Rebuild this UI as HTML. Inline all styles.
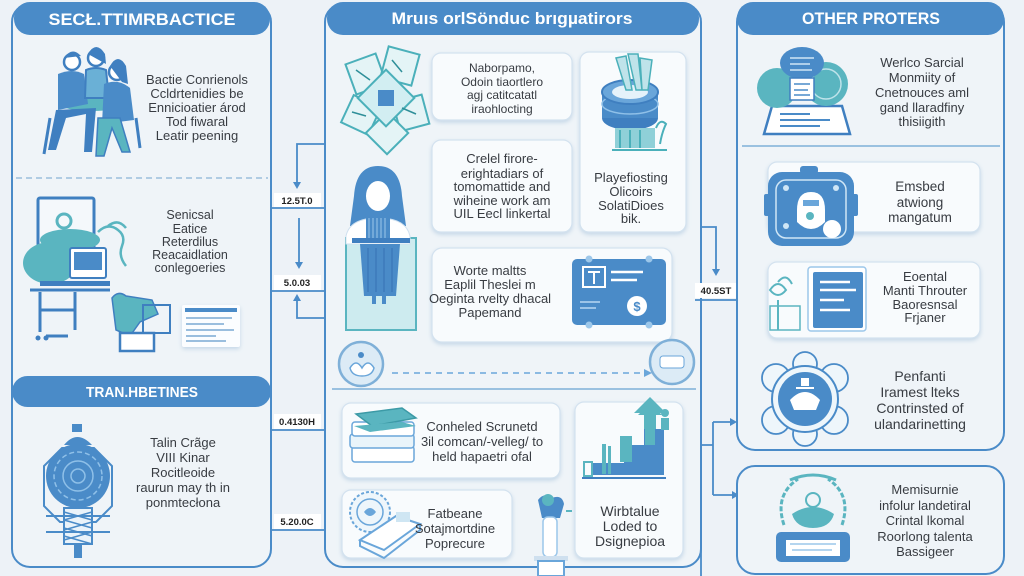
<!DOCTYPE html>
<html><head><meta charset="utf-8"><style>
html,body{margin:0;padding:0;background:#edf2f7;}
svg{display:block;}
text{font-family:"Liberation Sans",sans-serif;}
.h{fill:#fff;font-weight:bold;font-size:17px;}
.t{fill:#383c42;font-size:13px;text-anchor:middle;}
.lab{fill:#222;font-size:9.5px;font-weight:bold;text-anchor:middle;}
</style></head><body>
<svg width="1024" height="576" viewBox="0 0 1024 576" xmlns="http://www.w3.org/2000/svg">
<defs>
<filter id="sh" x="-10%" y="-10%" width="120%" height="130%"><feDropShadow dx="0" dy="2" stdDeviation="2" flood-color="#8fb3d3" flood-opacity="0.45"/></filter>
</defs>
<rect width="1024" height="576" fill="#edf2f7"/>

<!-- ========== LEFT PANEL ========== -->
<rect x="12" y="4" width="259" height="563" rx="18" fill="#eff4f8" stroke="#4a8bc8" stroke-width="2"/>
<rect x="14" y="2" width="256" height="33" rx="16" fill="#4a8bc8"/>
<text class="h" x="142" y="25" text-anchor="middle" textLength="187" lengthAdjust="spacingAndGlyphs">SECŁ.TTIMRBACTICE</text>

<!-- people icon -->
<g>
<ellipse cx="92" cy="104" rx="32" ry="7" fill="#5ab5c0"/>
<circle cx="72" cy="62" r="8" fill="#fff" stroke="#3f7fc0" stroke-width="2.5"/>
<path d="M64 58 q8 -12 17 -2 z" fill="#3f7fc0"/>
<path d="M58 74 q14 -6 26 0 l4 30 l-30 6 z" fill="#4a8bc8"/>
<path d="M56 110 l-8 40 l8 0 l10 -32 l20 -4 l-2 38 l8 0 l4 -44 z" fill="#3f7fc0"/>
<circle cx="96" cy="58" r="8" fill="#fff" stroke="#3f7fc0" stroke-width="2.5"/>
<path d="M88 54 q8 -14 17 0 l1 10 z" fill="#3f7fc0"/>
<path d="M86 70 q10 -4 20 0 l3 28 l-24 0 z" fill="#6ab0d6" stroke="#3f7fc0" stroke-width="2"/>
<circle cx="117" cy="72" r="8" fill="#fff" stroke="#3f7fc0" stroke-width="2.5"/>
<path d="M110 66 q8 -14 16 0 l2 18 l-6 -2 z" fill="#3f7fc0"/>
<path d="M104 84 q14 -6 26 4 l4 32 l-32 4 z" fill="#4a8bc8"/>
<path d="M98 118 l22 0 l10 34 l-8 0 l-10 -24 l-8 28 l-8 0 z" fill="#5ab5c0" stroke="#3f7fc0" stroke-width="1.5"/>
<path d="M50 118 l-6 36 M136 118 l4 30" stroke="#3f7fc0" stroke-width="3"/>
</g>
<text class="t"><tspan x="197" y="84">Bactie Conrienols</tspan><tspan x="197" y="98">Ccldrtenidies be</tspan><tspan x="197" y="112">Ennicioatier árod</tspan><tspan x="197" y="126">Tod fiwaral</tspan><tspan x="197" y="140">Leatir peening</tspan></text>

<line x1="16" y1="178" x2="268" y2="178" stroke="#9cbedc" stroke-width="1.5" stroke-dasharray="6 4"/>

<!-- computer icon -->
<g>
<rect x="38" y="198" width="56" height="58" rx="2" fill="#f4f8fb" stroke="#3f7fc0" stroke-width="3"/>
<circle cx="64" cy="221" r="7" fill="none" stroke="#5ab5c0" stroke-width="3"/>
<ellipse cx="70" cy="240" rx="30" ry="11" fill="#5ab5c0"/>
<ellipse cx="50" cy="263" rx="27" ry="21" fill="#5ab5c0"/>
<rect x="70" y="248" width="36" height="30" rx="2" fill="#fff" stroke="#3f7fc0" stroke-width="2"/>
<rect x="74" y="252" width="28" height="18" fill="#4a8bc8"/>
<path d="M98 232 q10 -10 20 -2 q8 6 4 16 q-4 10 4 20 M108 226 q10 -8 18 2" fill="none" stroke="#5ab5c0" stroke-width="2.5"/>
<rect x="40" y="281" width="70" height="5" fill="#3f7fc0"/>
<path d="M30 290 h80 M40 292 v40 M75 292 v38 M40 310 h35 M46 336 h22" stroke="#3f7fc0" stroke-width="3" fill="none"/>
<circle cx="38" cy="338" r="2.5" fill="#3f7fc0"/><circle cx="46" cy="338" r="2.5" fill="#3f7fc0"/>
<path d="M112 298 q6 -8 14 -2 l26 4 l6 14 l-18 8 l-10 14 l-14 -6 z" fill="#5ab5c0" stroke="#3f7fc0" stroke-width="1.5"/>
<rect x="143" y="305" width="27" height="28" fill="none" stroke="#3f7fc0" stroke-width="2"/>
<rect x="120" y="333" width="34" height="18" fill="#fff" stroke="#3f7fc0" stroke-width="2.5"/>
<rect x="182" y="305" width="58" height="42" rx="2" fill="#fbfdff" filter="url(#sh)"/>
<rect x="185" y="308" width="52" height="4" fill="#4a8bc8"/>
<path d="M186 318 h46 M186 324 h38 M186 330 h48 M186 336 h30 M186 341 h40" stroke="#7aa9d4" stroke-width="1.5"/>
</g>
<text class="t" style="font-size:12.5px"><tspan x="190" y="219">Senicsal</tspan><tspan x="190" y="233">Eatice</tspan><tspan x="190" y="246">Reterdilus</tspan><tspan x="190" y="259">Reacaidlation</tspan><tspan x="190" y="272">conlegoeries</tspan></text>

<rect x="12" y="376" width="259" height="31" rx="15.5" fill="#4a8bc8"/>
<text class="h" x="142" y="397" text-anchor="middle" style="font-size:15px" textLength="112" lengthAdjust="spacingAndGlyphs">TRAN.HBETINES</text>

<!-- lantern icon -->
<g>
<path d="M62 448 h32 l18 18 v40 l-16 16 h-36 l-16 -16 v-40 z" fill="none" stroke="#4a8bc8" stroke-width="2"/>
<rect x="72" y="424" width="10" height="8" fill="#4a8bc8"/>
<path d="M64 445 q13 -16 28 0 z" fill="#4a8bc8"/>
<circle cx="78" cy="476" r="32" fill="#4a8bc8"/>
<circle cx="78" cy="476" r="24" fill="none" stroke="#8fc0e8" stroke-width="1.5" stroke-dasharray="5 3"/>
<circle cx="78" cy="476" r="15" fill="none" stroke="#8fc0e8" stroke-width="1.5"/>
<circle cx="78" cy="476" r="7" fill="none" stroke="#8fc0e8" stroke-width="1.5"/>
<rect x="64" y="508" width="28" height="36" fill="#eaf3fa" stroke="#4a8bc8" stroke-width="2"/>
<path d="M64 512 l28 8 M64 520 l28 8 M64 528 l28 8 M64 536 l28 8 M92 512 l-28 8 M92 522 l-28 8 M92 532 l-28 8" stroke="#4a8bc8" stroke-width="1.5"/>
<path d="M46 516 h64 M46 532 h64" stroke="#4a8bc8" stroke-width="2"/>
<rect x="74" y="544" width="8" height="14" fill="#4a8bc8"/>
</g>
<text class="t"><tspan x="183" y="447">Talin Crãge</tspan><tspan x="183" y="462">VIII Kinar</tspan><tspan x="183" y="477">Rocitleoide</tspan><tspan x="183" y="492">raurun may th in</tspan><tspan x="183" y="507">ponmtecłona</tspan></text>

<!-- ========== LEFT CONNECTORS ========== -->
<g stroke="#4a8bc8" stroke-width="1.8" fill="none">
<path d="M324 144 H297 V183"/>
<path d="M299 218 V263"/>
<path d="M297 300 V318 H324"/>
<path d="M272 208 H324 M272 291 H324 M272 430 H324 M272 530 H324"/>
</g>
<g fill="#4a8bc8">
<path d="M293 182 l4 7 l4 -7 z"/><path d="M295 262 l4 7 l4 -7 z"/><path d="M293 301 l4 -7 l4 7 z"/>
</g>
<rect x="274" y="193" width="47" height="14" fill="#fff"/><text class="lab" x="297" y="204">12.5T.0</text>
<rect x="274" y="275" width="47" height="15" fill="#fff"/><text class="lab" x="297" y="286">5.0.03</text>
<rect x="274" y="414" width="47" height="15" fill="#fff"/><text class="lab" x="297" y="425">0.4130H</text>
<rect x="274" y="514" width="47" height="15" fill="#fff"/><text class="lab" x="297" y="525">5.20.0C</text>

<!-- ========== MIDDLE PANEL ========== -->
<rect x="325" y="4" width="376" height="563" rx="18" fill="#eff4f8" stroke="#4a8bc8" stroke-width="2"/>
<rect x="327" y="2" width="372" height="33" rx="16" fill="#4a8bc8"/>
<text class="h" x="512" y="24" text-anchor="middle" textLength="241" lengthAdjust="spacingAndGlyphs">Mruıs orlSönduc brıgµatirors</text>

<!-- diamond cluster -->
<g stroke="#4bb0ba" stroke-width="2" fill="#e4f4f6">
<rect x="350" y="58" width="32" height="32" transform="rotate(-20 366 74)"/>
<rect x="384" y="50" width="32" height="32" transform="rotate(15 400 66)"/>
<rect x="346" y="100" width="30" height="30" transform="rotate(25 361 115)"/>
<rect x="396" y="98" width="30" height="30" transform="rotate(-15 411 113)"/>
<rect x="372" y="118" width="30" height="30" transform="rotate(45 387 133)"/>
<rect x="366" y="78" width="40" height="40" transform="rotate(45 386 98)" fill="#d2eef2"/>
</g>
<rect x="378" y="90" width="16" height="16" fill="#4a8bc8"/>
<path d="M356 70 l14 10 M392 60 l10 12 M352 112 l14 4 M402 108 l14 6" stroke="#2f8f99" stroke-width="1.5"/>

<rect x="432" y="53" width="140" height="67" rx="9" fill="#f8fbfd" stroke="#d3e2ef" stroke-width="1.2" filter="url(#sh)"/>
<text class="t" style="font-size:12px"><tspan x="502" y="72">Naborpamo,</tspan><tspan x="502" y="86">Odoin tiaortlero</tspan><tspan x="502" y="99">agj catitcatatl</tspan><tspan x="502" y="113">iraohlocting</tspan></text>

<rect x="580" y="52" width="106" height="180" rx="9" fill="#f8fbfd" stroke="#d3e2ef" stroke-width="1.2" filter="url(#sh)"/>
<!-- coin stack -->
<g>
<ellipse cx="630" cy="118" rx="28" ry="12" fill="#3f7fc0"/>
<rect x="602" y="92" width="56" height="26" fill="#4a8bc8"/>
<ellipse cx="630" cy="104" rx="28" ry="10" fill="none" stroke="#8fc0e8" stroke-width="1.5"/>
<ellipse cx="630" cy="92" rx="28" ry="12" fill="#6aa6da" stroke="#3f7fc0" stroke-width="2"/>
<ellipse cx="630" cy="92" rx="18" ry="7" fill="#e5f2fa"/>
<path d="M616 58 l10 32 l6 0 l-6 -34 z M628 54 l8 36 l6 0 l-4 -36 z M640 58 l2 32 l6 0 l4 -30 z" fill="#bfe3ea" stroke="#4bb0ba" stroke-width="1.5"/>
<rect x="615" y="128" width="40" height="20" fill="#8fd0d8"/>
<path d="M612 150 h55 M620 148 v-18 M630 148 v-18 M640 148 v-18" stroke="#4bb0ba" stroke-width="2"/>
<path d="M656 128 q4 -10 10 -4 q-4 8 -6 20" fill="none" stroke="#4bb0ba" stroke-width="2"/>
</g>
<text class="t"><tspan x="631" y="182">Playefiosting</tspan><tspan x="631" y="196">Olicoirs</tspan><tspan x="631" y="210">SolatiDioes</tspan><tspan x="631" y="223">bik.</tspan></text>

<rect x="432" y="140" width="140" height="92" rx="9" fill="#f8fbfd" stroke="#d3e2ef" stroke-width="1.2" filter="url(#sh)"/>
<text class="t"><tspan x="502" y="163">Crelel firore-</tspan><tspan x="502" y="178">erightadiars of</tspan><tspan x="502" y="191">tomomattide and</tspan><tspan x="502" y="205">wiheine work am</tspan><tspan x="502" y="218">UIL Eecl linkertal</tspan></text>

<!-- woman -->
<g>
<rect x="346" y="238" width="70" height="92" fill="#cdebef" stroke="#5ab5c0" stroke-width="2"/>
<path d="M378 166 q-22 0 -24 30 l-4 30 l56 0 l-4 -30 q-2 -30 -24 -30 z" fill="#4a8bc8"/>
<ellipse cx="378" cy="196" rx="12" ry="15" fill="#fff"/>
<path d="M346 236 q4 -18 32 -18 q28 0 32 18 l0 8 l-64 0 z" fill="#fff" stroke="#cfe0ef" stroke-width="1"/>
<path d="M366 216 h24 v24 h-24 z" fill="#4a8bc8"/>
<path d="M369 218 v20 M373 218 v20 M377 218 v20 M381 218 v20 M385 218 v20" stroke="#9cc7ea" stroke-width="1"/>
<rect x="352" y="238" width="58" height="5" fill="#3f7fc0"/>
<path d="M360 244 h40 l-4 52 h-32 z" fill="#4a8bc8"/>
<path d="M368 248 v44 M376 248 v44 M384 248 v44 M392 248 v44" stroke="#3572b3" stroke-width="1"/>
<rect x="372" y="296" width="4" height="8" fill="#4a8bc8"/><rect x="382" y="296" width="4" height="8" fill="#4a8bc8"/>
</g>

<rect x="432" y="248" width="240" height="94" rx="10" fill="#f8fbfd" stroke="#d3e2ef" stroke-width="1.2" filter="url(#sh)"/>
<text class="t"><tspan x="490" y="275">Worte maltts</tspan><tspan x="490" y="289">Eaplil Theslei m</tspan><tspan x="490" y="303">Oeginta rvelty dhacal</tspan><tspan x="490" y="317">Papemand</tspan></text>
<!-- blue card -->
<g>
<rect x="572" y="259" width="94" height="66" rx="5" fill="#4a8bc8"/>
<circle cx="589" cy="259" r="3.5" fill="#9cc7ea"/><circle cx="649" cy="259" r="3.5" fill="#9cc7ea"/>
<circle cx="589" cy="325" r="3.5" fill="#9cc7ea"/><circle cx="649" cy="325" r="3.5" fill="#9cc7ea"/>
<rect x="583" y="267" width="22" height="20" fill="none" stroke="#fff" stroke-width="2"/>
<path d="M588 272 h12 M594 272 v12" stroke="#fff" stroke-width="2"/>
<path d="M611 272 h32 M611 280 h26" stroke="#fff" stroke-width="2.5"/>
<path d="M580 302 h20 M580 308 h16" stroke="#b8d8f2" stroke-width="1.5"/>
<circle cx="637" cy="306" r="10" fill="#fff"/>
<text x="637" y="311" text-anchor="middle" style="font-size:13px;font-weight:bold;fill:#4a8bc8">$</text>
</g>

<!-- circles and dashed arrow -->
<circle cx="361" cy="364" r="22" fill="#dcebf6" stroke="#7fb0d8" stroke-width="2.5"/>
<path d="M350 368 q6 -10 12 0 q6 -10 12 0 q-2 8 -12 8 q-10 0 -12 -8 z" fill="#fff" stroke="#6aa6da" stroke-width="1.5"/>
<circle cx="361" cy="355" r="3" fill="#4a8bc8"/>
<circle cx="672" cy="362" r="22" fill="#dcebf6" stroke="#7fb0d8" stroke-width="2.5"/>
<rect x="660" y="356" width="24" height="12" rx="3" fill="#fff" stroke="#6aa6da" stroke-width="1"/>
<line x1="392" y1="373" x2="646" y2="373" stroke="#6aa6da" stroke-width="1.5" stroke-dasharray="6 5"/>
<path d="M644 369 l8 4 l-8 4 z" fill="#6aa6da"/>
<line x1="332" y1="389" x2="696" y2="389" stroke="#7fb0d8" stroke-width="1.5"/>

<!-- card E -->
<rect x="342" y="403" width="218" height="75" rx="9" fill="#f8fbfd" stroke="#d3e2ef" stroke-width="1.2" filter="url(#sh)"/>
<g>
<rect x="352" y="446" width="62" height="16" rx="3" fill="#fff" stroke="#6aa6da" stroke-width="1.5"/>
<rect x="350" y="434" width="64" height="14" rx="3" fill="#e9f4fa" stroke="#6aa6da" stroke-width="1.5"/>
<rect x="352" y="422" width="62" height="14" rx="3" fill="#fff" stroke="#6aa6da" stroke-width="1.5"/>
<path d="M356 414 l46 -6 l14 10 l-44 8 z" fill="#5ab5c0" stroke="#3c9aa6" stroke-width="1.5"/>
<path d="M354 426 l48 -4 l14 4 l-46 6 z" fill="#5ab5c0"/>
</g>
<text class="t"><tspan x="482" y="431">Conheled Scrunetd</tspan><tspan x="482" y="446">3il comcan/-velleg/ to</tspan><tspan x="482" y="461">held hapaetri ofal</tspan></text>

<!-- card F -->
<rect x="575" y="402" width="108" height="156" rx="9" fill="#f8fbfd" stroke="#d3e2ef" stroke-width="1.2" filter="url(#sh)"/>
<g>
<path d="M592 475 h72 v-46 h-20 v16 h-20 v18 h-32 z" fill="#4a8bc8"/>
<path d="M644 429 v-16 l-10 0 l16 -16 l16 16 l-10 0 v16 z" fill="#5ab5c0"/>
<path d="M645 445 v-30 l-7 0 l12 -12 l12 12 l-7 0 v30 z" fill="#5ab5c0"/>
<rect x="620" y="436" width="12" height="26" fill="#5ab5c0"/>
<rect x="602" y="444" width="4" height="30" fill="#5ab5c0"/><rect x="608" y="446" width="3" height="28" fill="#5ab5c0"/>
<rect x="584" y="462" width="8" height="14" fill="none" stroke="#5ab5c0" stroke-width="2"/>
<path d="M582 478 h84" stroke="#3f7fc0" stroke-width="2"/>
<circle cx="665" cy="413" r="4" fill="#5ab5c0"/><path d="M661 418 h8 v12 h-8 z" fill="#5ab5c0"/>
</g>
<text class="t" style="font-size:14px"><tspan x="630" y="516">Wirbtalue</tspan><tspan x="630" y="531">Loded to</tspan><tspan x="630" y="546">Dsignepioa</tspan></text>

<!-- card G -->
<rect x="342" y="490" width="170" height="68" rx="9" fill="#f8fbfd" stroke="#d3e2ef" stroke-width="1.2" filter="url(#sh)"/>
<g>
<circle cx="370" cy="512" r="20" fill="#eef6fb" stroke="#6aa6da" stroke-width="2" stroke-dasharray="3 2"/>
<circle cx="370" cy="512" r="13" fill="none" stroke="#6aa6da" stroke-width="1.5"/>
<path d="M364 512 q6 -8 12 0 q-6 8 -12 0" fill="#6aa6da"/>
<path d="M360 540 l36 -24 l24 8 l-36 26 z" fill="#fff" stroke="#6aa6da" stroke-width="2"/>
<path d="M360 540 l0 6 l24 12 l36 -28 l0 -6" fill="none" stroke="#6aa6da" stroke-width="2"/>
<rect x="396" y="512" width="14" height="10" fill="#cfe6f3"/>
</g>
<text class="t"><tspan x="455" y="518">Fatbeane</tspan><tspan x="455" y="533">Sotajmortdine</tspan><tspan x="455" y="548">Poprecure</tspan></text>

<!-- trophy figure -->
<g>
<path d="M538 500 q6 -8 14 -2 q10 -4 12 6 l-4 14 l-18 0 z" fill="#4a8bc8"/>
<circle cx="548" cy="500" r="6" fill="#5ab5c0"/>
<path d="M566 511 h6" stroke="#5ab5c0" stroke-width="2"/>
<rect x="543" y="517" width="14" height="40" rx="5" fill="#fff" stroke="#9cc7ea" stroke-width="1.5"/>
<rect x="534" y="556" width="34" height="5" fill="#cfe0ef"/>
<rect x="538" y="561" width="26" height="15" fill="#fff" stroke="#6aa6da" stroke-width="2"/>
</g>

<!-- ========== RIGHT CONNECTORS ========== -->
<g stroke="#4a8bc8" stroke-width="1.8" fill="none">
<path d="M701 227 H716 V270"/>
<path d="M695 300 H738"/>
<path d="M701 445 H713 M713 422 V495 M713 422 H731 M713 495 H733"/>
<path d="M701 300 V576"/>
</g>
<g fill="#4a8bc8">
<path d="M712 269 l4 7 l4 -7 z"/><path d="M730 418 l7 4 l-7 4 z"/><path d="M732 491 l7 4 l-7 4 z"/>
</g>
<rect x="695" y="283" width="43" height="15" fill="#fff"/><text class="lab" x="716" y="294">40.5ST</text>

<!-- ========== RIGHT UPPER PANEL ========== -->
<rect x="737" y="4" width="267" height="446" rx="18" fill="#eff4f8" stroke="#4a8bc8" stroke-width="2"/>
<rect x="737" y="2" width="267" height="33" rx="16" fill="#4a8bc8"/>
<text class="h" x="871" y="24" text-anchor="middle" textLength="138" lengthAdjust="spacingAndGlyphs">OTHER PROTERS</text>

<!-- speech bubbles -->
<g>
<path d="M772 106 h70 l8 28 h-86 z" fill="#fff" stroke="#3f7fc0" stroke-width="2.5"/>
<path d="M780 114 h30 M780 120 h50 M780 126 h40" stroke="#4a8bc8" stroke-width="2"/>
<circle cx="777" cy="88" r="20" fill="#5ab5c0"/>
<circle cx="826" cy="84" r="22" fill="#5ab5c0"/>
<circle cx="826" cy="84" r="15" fill="none" stroke="#bfe3ea" stroke-width="1.5"/>
<ellipse cx="802" cy="63" rx="22" ry="16" fill="#4a8bc8"/>
<path d="M790 58 h24 M790 64 h20 M790 70 h22" stroke="#cfe6f6" stroke-width="1.5"/>
<rect x="790" y="78" width="24" height="22" fill="#fff" stroke="#3f7fc0" stroke-width="1.5"/>
<path d="M794 84 h16 M794 90 h14 M794 95 h16" stroke="#4a8bc8" stroke-width="1.5"/>
</g>
<text class="t"><tspan x="922" y="67">Werlco Sarcial</tspan><tspan x="922" y="82">Monmiity of</tspan><tspan x="922" y="97">Cnetnouces aml</tspan><tspan x="922" y="112">gand llaradfiny</tspan><tspan x="922" y="126">thisiigith</tspan></text>
<line x1="742" y1="146" x2="1000" y2="146" stroke="#7fb0d8" stroke-width="1.5"/>

<!-- card H -->
<rect x="768" y="162" width="212" height="70" rx="9" fill="#f8fbfd" stroke="#d3e2ef" stroke-width="1.2" filter="url(#sh)"/>
<g>
<rect x="768" y="172" width="86" height="74" rx="14" fill="#4a8bc8"/>
<rect x="764" y="194" width="6" height="22" rx="2" fill="#4a8bc8"/><rect x="852" y="194" width="6" height="22" rx="2" fill="#4a8bc8"/>
<rect x="800" y="166" width="18" height="8" rx="3" fill="#4a8bc8"/>
<rect x="776" y="180" width="70" height="58" rx="10" fill="none" stroke="#cfe6f6" stroke-width="1.5"/>
<path d="M797 210 q0 -18 14 -18 q14 0 14 18 l0 12 q-14 14 -28 0 z" fill="#fff"/>
<rect x="803" y="200" width="16" height="6" fill="#6aa6da"/>
<circle cx="810" cy="216" r="4" fill="#5ab5c0"/>
<circle cx="832" cy="229" r="9" fill="#fff"/>
<circle cx="786" cy="188" r="3" fill="#cfe6f6"/><circle cx="836" cy="188" r="3" fill="#cfe6f6"/><circle cx="786" cy="226" r="3" fill="#cfe6f6"/>
</g>
<text class="t" style="font-size:13.5px"><tspan x="920" y="191">Emsbed</tspan><tspan x="920" y="207">atwiong</tspan><tspan x="920" y="222">mangatum</tspan></text>

<!-- card I -->
<rect x="768" y="262" width="212" height="76" rx="9" fill="#f8fbfd" stroke="#d3e2ef" stroke-width="1.2" filter="url(#sh)"/>
<g>
<rect x="808" y="267" width="58" height="64" rx="3" fill="#fff" stroke="#9cc7ea" stroke-width="1.5"/>
<rect x="813" y="272" width="50" height="56" rx="2" fill="#4a8bc8"/>
<path d="M820 282 h30 M820 290 h36 M820 300 h24 M820 310 h30" stroke="#fff" stroke-width="2.5"/>
<path d="M778 330 v-30 M770 290 q8 -12 16 0 q-8 10 -16 0 z M778 282 q8 -10 14 2" fill="none" stroke="#5ab5c0" stroke-width="2"/>
<rect x="770" y="306" width="30" height="24" fill="none" stroke="#5ab5c0" stroke-width="1.5"/>
</g>
<text class="t"><tspan x="925" y="281">Eoental</tspan><tspan x="925" y="295">Manti Throuter</tspan><tspan x="925" y="309">Baoresnsal</tspan><tspan x="925" y="322">Frjaner</tspan></text>

<!-- seal icon -->
<g>
<g fill="#eef6fb" stroke="#4a8bc8" stroke-width="1.8">
<circle cx="776" cy="378" r="14"/><circle cx="834" cy="378" r="14"/><circle cx="776" cy="420" r="14"/><circle cx="834" cy="420" r="14"/><circle cx="805" cy="364" r="12"/><circle cx="805" cy="434" r="12"/>
</g>
<circle cx="805" cy="399" r="33" fill="#eef6fb" stroke="#4a8bc8" stroke-width="2"/>
<circle cx="805" cy="399" r="27" fill="#4a8bc8"/>
<path d="M790 400 q15 -16 30 0 l-4 10 h-22 z" fill="#fff"/>
<path d="M796 388 h18" stroke="#fff" stroke-width="2"/>
<rect x="801" y="378" width="8" height="8" fill="#fff"/>
</g>
<text class="t" style="font-size:14px"><tspan x="920" y="381">Penfanti</tspan><tspan x="920" y="397">Iramest lteks</tspan><tspan x="920" y="413">Contrinsted of</tspan><tspan x="920" y="429">ulandarinetting</tspan></text>

<!-- ========== RIGHT LOWER PANEL ========== -->
<rect x="737" y="466" width="267" height="108" rx="18" fill="#eff4f8" stroke="#4a8bc8" stroke-width="2"/>
<g>
<path d="M784 525 q-10 -30 14 -46 M842 525 q10 -30 -14 -46" fill="none" stroke="#5ab5c0" stroke-width="3" stroke-dasharray="5 2"/>
<path d="M790 480 q23 -10 46 0" fill="none" stroke="#5ab5c0" stroke-width="3"/>
<circle cx="813" cy="500" r="7" fill="none" stroke="#5ab5c0" stroke-width="2"/>
<path d="M792 514 q21 -14 42 0 q-4 14 -21 14 q-17 0 -21 -14 z" fill="#5ab5c0"/>
<rect x="776" y="532" width="74" height="30" rx="5" fill="#4a8bc8"/>
<rect x="786" y="540" width="54" height="16" fill="#fff"/>
<path d="M790 544 h46 M792 550 h40" stroke="#9cc7ea" stroke-width="1.5"/>
</g>
<text class="t"><tspan x="925" y="494">Memisurnie</tspan><tspan x="925" y="510">infolur landetiral</tspan><tspan x="925" y="525">Crintal lkomal</tspan><tspan x="925" y="541">Roorlong talenta</tspan><tspan x="925" y="556">Bassigeer</tspan></text>
</svg>
</body></html>
